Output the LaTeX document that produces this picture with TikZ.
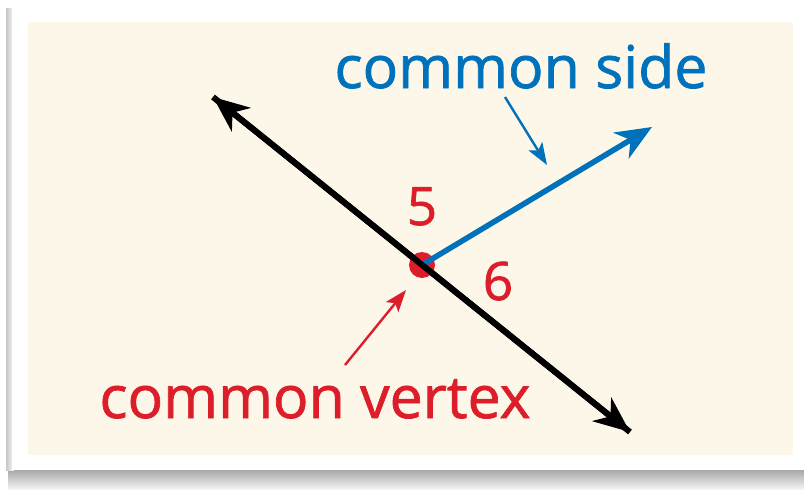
\documentclass[tikz,border=0pt]{standalone}
\usepackage{fontspec}
\setmainfont{Open Sans}
\newfontfamily\lblfont{Open Sans}[FakeBold=1.2]
\usetikzlibrary{arrows.meta}
\definecolor{sideblue}{RGB}{0,114,188}
\definecolor{vertexred}{RGB}{220,30,42}
\definecolor{panelcream}{RGB}{253,247,234}

\begin{document}
\begin{tikzpicture}[x=1pt,y=-1pt,
    lbl/.style={anchor=base,inner sep=0pt,font=\lblfont\fontsize{59}{66}\selectfont},
    num/.style={anchor=base,inner sep=0pt,font=\lblfont\fontsize{53}{60}\selectfont,text=vertexred},
    bigline/.style={line width=6pt,{Stealth[length=36pt,width=30pt,inset=11pt]}-{Stealth[length=36pt,width=30pt,inset=11pt]}},
    ray/.style={line width=5.5pt,sideblue,-{Stealth[length=36pt,width=30pt,inset=11pt]}},
    pointer/.style={line width=2.4pt,-{Stealth[length=22pt,width=16pt,inset=5pt]}}
  ]
  \useasboundingbox (0,0) rectangle (804,490);
  % card with its shadow
  \shade[top color=gray!75,bottom color=gray!5] (8,468) rectangle (804,490);
  \shade[left color=gray!45,right color=white] (6,8) rectangle (14,470);
  \fill[white] (12,6) rectangle (804,470);
  \fill[panelcream] (28,22) rectangle (793,455);

  % line and ray
  \coordinate (ltip) at (213,97);
  \coordinate (rtip) at (630,432);
  \coordinate (stip) at (652,127);
  \draw[bigline] (ltip) -- (rtip);
  \node[circle,fill=vertexred,minimum size=26pt,inner sep=0pt] (vtx) at (422,265) {};
  \draw[ray] (vtx.center) -- (stip);
  \draw[line width=6pt] (ltip) -- (rtip); % line over the dot

  % labels
  \node[lbl,text=sideblue] (side) at (521,88) {common side};
  \node[lbl,text=vertexred] (vertex) at (315,418) {common vertex};
  \node[num] (five) at (422,225) {5};
  \node[num] (six) at (498,300) {6};

  % pointers
  \coordinate (sfrom) at (505,97);
  \coordinate (sto) at (547,165);
  \coordinate (vfrom) at (345,365);
  \coordinate (vto) at (406,290);
  \draw[pointer,sideblue] (sfrom) -- (sto);
  \draw[pointer,vertexred] (vfrom) -- (vto);
\end{tikzpicture}
\end{document}
